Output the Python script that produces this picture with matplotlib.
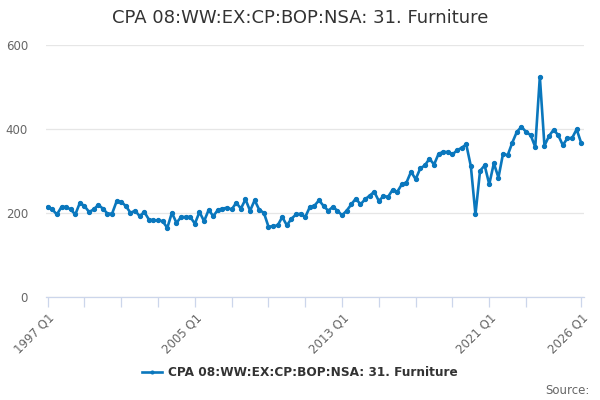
import matplotlib
matplotlib.use("Agg")
import matplotlib.pyplot as plt
import numpy as np

# ---------------- DATA ----------------

title = "CPA 08:WW:EX:CP:BOP:NSA: 31. Furniture"
series_name = "CPA 08:WW:EX:CP:BOP:NSA: 31. Furniture"

# quarterly periods, 1997 Q1 .. 2026 Q1
quarters = [f"{y} Q{q}" for y in range(1997, 2027) for q in range(1, 5)][:117]

values = [
    214, 208, 196, 214, 214, 208, 196, 224, 216, 202,
    208, 219, 210, 198, 198, 228, 226, 216, 200, 205,
    192, 202, 184, 182, 182, 180, 164, 200, 176, 190,
    190, 190, 174, 202, 180, 207, 192, 207, 210, 212,
    208, 224, 210, 232, 205, 230, 207, 200, 167, 168,
    170, 190, 170, 186, 196, 198, 190, 214, 217, 230,
    216, 205, 214, 205, 194, 205, 220, 234, 220, 232,
    241, 250, 228, 240, 238, 255, 250, 268, 272, 298,
    280, 306, 313, 329, 315, 341, 345, 345, 339, 349,
    355, 363, 311, 196, 300, 313, 268, 318, 284, 341,
    337, 367, 393, 405, 393, 385, 357, 524, 360, 383,
    398, 385, 361, 378, 378, 399, 366,
]

tick_quarters = ["1997 Q1", "1999 Q1", "2001 Q1", "2003 Q1", "2005 Q1",
                 "2007 Q1", "2009 Q1", "2011 Q1", "2013 Q1", "2015 Q1",
                 "2017 Q1", "2019 Q1", "2021 Q1", "2023 Q1", "2026 Q1"]
label_quarters = ["1997 Q1", "2005 Q1", "2013 Q1", "2021 Q1", "2026 Q1"]
y_ticks = [0, 200, 400, 600]

# ---------------- PLOT ----------------

line_color = "#0a77bd"
grey_text = "#666666"
axis_color = "#ccd6eb"

fig = plt.figure(figsize=(6, 4), dpi=100)
ax = fig.add_axes([46 / 600, 1 - 296.7 / 400, 538 / 600, 251.7 / 400])

x = np.arange(len(values))
ax.plot(x, values, color=line_color, lw=1.9, marker="o", ms=2.8,
        label=series_name, zorder=3)

ax.set_xlim(-0.37, 116.6)
ax.set_ylim(0, 600)

ax.set_yticks(y_ticks)
ax.set_yticklabels([str(v) for v in y_ticks])
ax.yaxis.grid(True, color="#e6e6e6", lw=0.9)
ax.set_axisbelow(True)
ax.tick_params(axis="y", length=0, pad=13, labelsize=8.5, labelcolor=grey_text)

tick_pos = [quarters.index(q) for q in tick_quarters]
ax.set_xticks(tick_pos)
ax.set_xticklabels([q if q in label_quarters else "" for q in tick_quarters],
                   rotation=45, ha="right", rotation_mode="anchor")
ax.tick_params(axis="x", length=7.5, width=0.9, color=axis_color, pad=3,
               labelsize=8.5, labelcolor=grey_text)

for side in ["top", "right", "left"]:
    ax.spines[side].set_visible(False)
ax.spines["bottom"].set_color(axis_color)
ax.spines["bottom"].set_linewidth(0.9)

fig.text(0.5, 1 - 18 / 400, title, ha="center", va="center",
         fontsize=13, color="#333333")

fig.legend(loc="center", bbox_to_anchor=(0.5, 1 - 373 / 400), frameon=False,
           prop={"size": 8.7, "weight": "bold"}, labelcolor="#333333",
           handlelength=1.6, handletextpad=0.5, markerscale=0.7)

fig.text(590 / 600, 1 - 390 / 400, "Source:", ha="right", va="center",
         fontsize=8.5, color=grey_text)

fig.savefig("out.png", dpi=100)
